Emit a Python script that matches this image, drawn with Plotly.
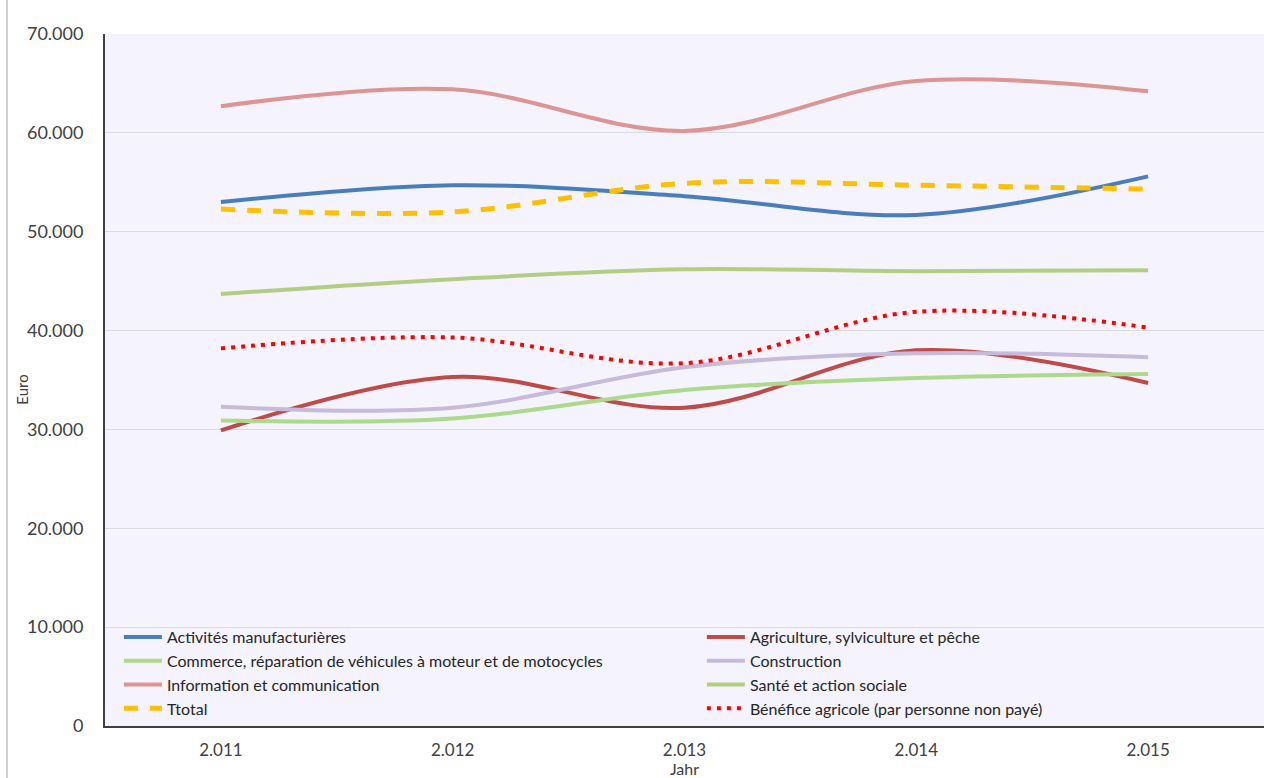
import plotly.graph_objects as go

# Years on the category axis
years = ["2.011", "2.012", "2.013", "2.014", "2.015"]

# Average annual amounts per sector (Euro)
activites_manufacturieres = [53000, 54700, 53600, 51700, 55600]
agriculture = [29900, 35300, 32200, 38000, 34700]
commerce = [30900, 31100, 34000, 35200, 35600]
construction = [32300, 32200, 36300, 37700, 37300]
information = [62700, 64400, 60200, 65250, 64200]
sante = [43700, 45200, 46200, 46000, 46100]
total = [52300, 52000, 54900, 54700, 54300]
benefice_agricole = [38200, 39300, 36700, 41900, 40300]

y_ticks = [0, 10000, 20000, 30000, 40000, 50000, 60000, 70000]

# name, values, colour, dash, width, legend column
series = [
    ("Activités manufacturières", activites_manufacturieres, "#4A7EBB", "solid", 4, "legend"),
    ("Agriculture, sylviculture et pêche", agriculture, "#BE4B48", "solid", 4, "legend2"),
    ("Commerce, réparation de véhicules à moteur et de motocycles", commerce, "#ADD98A", "solid", 4, "legend"),
    ("Construction", construction, "#C6BBDA", "solid", 4, "legend2"),
    ("Information et communication", information, "#DC9593", "solid", 4, "legend"),
    ("Santé et action sociale", sante, "#B3CE83", "solid", 4, "legend2"),
    ("Ttotal", total, "#FFC000", "14px,12px", 5, "legend"),
    ("Bénéfice agricole (par personne non payé)", benefice_agricole, "#FF0000", "4px,6px", 4, "legend2"),
]

fig = go.Figure()
for name, values, color, dash, width, legend_id in series:
    fig.add_trace(go.Scatter(
        x=years, y=values, name=name, mode="lines", legend=legend_id,
        line=dict(color=color, width=width, dash=dash, shape="spline", smoothing=1),
    ))

font_family = "Lato, 'Open Sans', sans-serif"
legend_font = dict(family=font_family, size=16, color="#262626")
legend_common = dict(
    orientation="v",
    y=0.0, yanchor="bottom",
    xanchor="left",
    bgcolor="rgba(0,0,0,0)",
    font=legend_font,
    itemwidth=38,
    traceorder="normal",
)

fig.update_layout(
    width=1264, height=778,
    autosize=False,
    separators=",.",
    paper_bgcolor="white",
    plot_bgcolor="#F5F3FD",
    margin=dict(l=105, r=0, t=34, b=52),
    font=dict(family=font_family, size=16, color="#404040"),
    showlegend=True,
    legend=dict(x=0.012, **legend_common),
    legend2=dict(x=0.515, **legend_common),
    xaxis=dict(
        type="category",
        range=[-0.5, 4.5],
        showgrid=False,
        showline=True, linecolor="#404040", linewidth=2,
        ticks="",
        ticklabelstandoff=8,
        tickfont=dict(size=17, color="#404040"),
        title=dict(text="Jahr", font=dict(size=16, color="#404040"), standoff=8),
        automargin=False,
        fixedrange=True,
    ),
    yaxis=dict(
        range=[0, 70000],
        tickvals=y_ticks,
        tickformat=",d",
        showgrid=True, gridcolor="#DCDADF", gridwidth=1,
        showline=True, linecolor="#404040", linewidth=2,
        zeroline=False,
        ticks="",
        ticklabelstandoff=16,
        tickfont=dict(size=18, color="#404040"),
        automargin=False,
        fixedrange=True,
    ),
    annotations=[
        dict(text="Euro", xref="paper", yref="paper",
             x=-0.0716, y=0.486, xanchor="center", yanchor="middle",
             textangle=-90, showarrow=False,
             font=dict(family=font_family, size=15, color="#404040")),
    ],
    shapes=[
        dict(type="line", xref="paper", yref="paper",
             x0=-0.0846, x1=-0.0846, y0=-0.1, y1=1.06,
             line=dict(color="#D0D0D0", width=2)),
    ],
)

fig.write_html("out.html")
